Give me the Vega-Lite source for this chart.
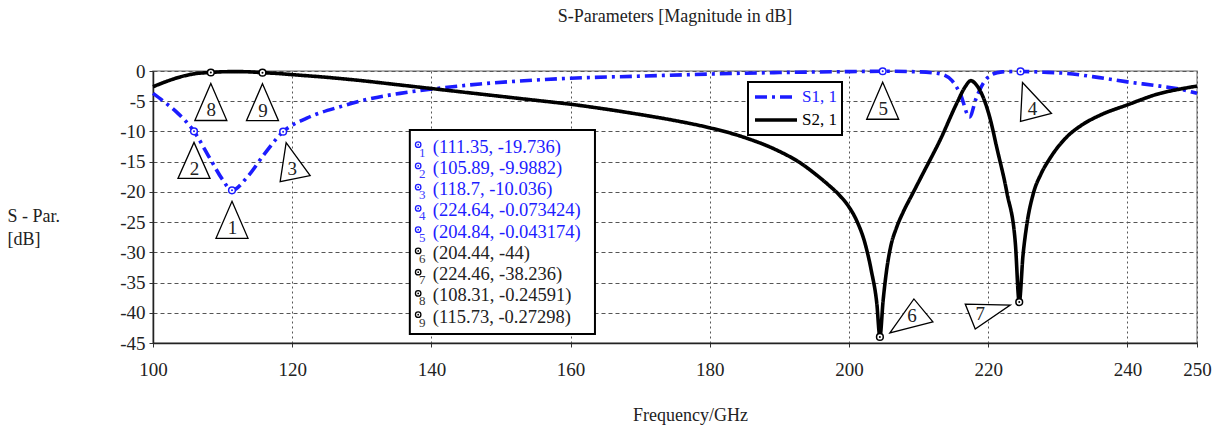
{
 "$schema": "https://vega.github.io/schema/vega-lite/v6.json",
 "width": 1044, "height": 272,
 "autosize": {"type": "none"},
 "padding": {"left": 153, "top": 71, "right": 24, "bottom": 87},
 "background": "white",
 "config": {"font": "Liberation Serif", "view": {"stroke": "#999", "strokeWidth": 1.5}},
 "title": {"text": "S-Parameters [Magnitude in dB]", "fontSize": 18, "fontWeight": "normal", "color": "#222", "anchor": "middle", "frame": "group", "baseline": "bottom", "offset": 18},
 "datasets": {
  "curves": [
   {"series": "S1, 1", "f": 100, "db": -3.7}, {"series": "S1, 1", "f": 101.5, "db": -5.0}, {"series": "S1, 1", "f": 103.4, "db": -6.8},
   {"series": "S1, 1", "f": 105.89, "db": -9.9882}, {"series": "S1, 1", "f": 108.2, "db": -14.5}, {"series": "S1, 1", "f": 109.9, "db": -17.8},
   {"series": "S1, 1", "f": 111.35, "db": -19.736}, {"series": "S1, 1", "f": 113.5, "db": -17.6}, {"series": "S1, 1", "f": 115.9, "db": -13.9},
   {"series": "S1, 1", "f": 118.7, "db": -10.036}, {"series": "S1, 1", "f": 122.1, "db": -7.8}, {"series": "S1, 1", "f": 126.9, "db": -5.9},
   {"series": "S1, 1", "f": 130, "db": -4.9}, {"series": "S1, 1", "f": 135.5, "db": -3.7}, {"series": "S1, 1", "f": 140, "db": -3.0},
   {"series": "S1, 1", "f": 147, "db": -2.15}, {"series": "S1, 1", "f": 155, "db": -1.5}, {"series": "S1, 1", "f": 160, "db": -1.2},
   {"series": "S1, 1", "f": 170, "db": -0.85}, {"series": "S1, 1", "f": 180, "db": -0.5}, {"series": "S1, 1", "f": 190, "db": -0.25},
   {"series": "S1, 1", "f": 200, "db": -0.1}, {"series": "S1, 1", "f": 204.84, "db": -0.043174}, {"series": "S1, 1", "f": 209, "db": -0.1},
   {"series": "S1, 1", "f": 212, "db": -0.3}, {"series": "S1, 1", "f": 213.5, "db": -0.6}, {"series": "S1, 1", "f": 214.8, "db": -1.6},
   {"series": "S1, 1", "f": 216, "db": -3.8}, {"series": "S1, 1", "f": 217.3, "db": -7.6}, {"series": "S1, 1", "f": 218.3, "db": -4.4},
   {"series": "S1, 1", "f": 219.3, "db": -2.0}, {"series": "S1, 1", "f": 220.5, "db": -0.6}, {"series": "S1, 1", "f": 222, "db": -0.15},
   {"series": "S1, 1", "f": 224.64, "db": -0.073424}, {"series": "S1, 1", "f": 228, "db": -0.2}, {"series": "S1, 1", "f": 231.3, "db": -0.4},
   {"series": "S1, 1", "f": 236, "db": -1.1}, {"series": "S1, 1", "f": 240, "db": -1.8}, {"series": "S1, 1", "f": 244.7, "db": -2.5},
   {"series": "S1, 1", "f": 247.5, "db": -3.0}, {"series": "S1, 1", "f": 250, "db": -3.7},
   {"series": "S2, 1", "f": 100, "db": -2.6}, {"series": "S2, 1", "f": 102, "db": -1.7}, {"series": "S2, 1", "f": 104, "db": -0.95},
   {"series": "S2, 1", "f": 106, "db": -0.45}, {"series": "S2, 1", "f": 108.31, "db": -0.24591}, {"series": "S2, 1", "f": 110, "db": -0.13},
   {"series": "S2, 1", "f": 112, "db": -0.1}, {"series": "S2, 1", "f": 114, "db": -0.15}, {"series": "S2, 1", "f": 115.73, "db": -0.27298},
   {"series": "S2, 1", "f": 118, "db": -0.42}, {"series": "S2, 1", "f": 120, "db": -0.6}, {"series": "S2, 1", "f": 125, "db": -1.05},
   {"series": "S2, 1", "f": 130, "db": -1.6}, {"series": "S2, 1", "f": 135, "db": -2.25}, {"series": "S2, 1", "f": 140, "db": -2.9},
   {"series": "S2, 1", "f": 145, "db": -3.55}, {"series": "S2, 1", "f": 150, "db": -4.2}, {"series": "S2, 1", "f": 155, "db": -4.85},
   {"series": "S2, 1", "f": 160, "db": -5.5}, {"series": "S2, 1", "f": 165, "db": -6.3}, {"series": "S2, 1", "f": 170, "db": -7.2},
   {"series": "S2, 1", "f": 175, "db": -8.2}, {"series": "S2, 1", "f": 180, "db": -9.4}, {"series": "S2, 1", "f": 185, "db": -11.0},
   {"series": "S2, 1", "f": 190, "db": -13.3}, {"series": "S2, 1", "f": 193, "db": -15.2}, {"series": "S2, 1", "f": 195, "db": -16.9},
   {"series": "S2, 1", "f": 197, "db": -18.8}, {"series": "S2, 1", "f": 198.5, "db": -20.4}, {"series": "S2, 1", "f": 200, "db": -22.5},
   {"series": "S2, 1", "f": 201.2, "db": -25}, {"series": "S2, 1", "f": 202.3, "db": -28.5},
   {"series": "S2, 1", "f": 203.2, "db": -33}, {"series": "S2, 1", "f": 204, "db": -38.5}, {"series": "S2, 1", "f": 204.44, "db": -44},
   {"series": "S2, 1", "f": 204.9, "db": -38}, {"series": "S2, 1", "f": 205.4, "db": -33}, {"series": "S2, 1", "f": 206, "db": -29},
   {"series": "S2, 1", "f": 206.8, "db": -26}, {"series": "S2, 1", "f": 207.8, "db": -23.3}, {"series": "S2, 1", "f": 209, "db": -20.6},
   {"series": "S2, 1", "f": 210.7, "db": -16.8}, {"series": "S2, 1", "f": 213.1, "db": -11.4},
   {"series": "S2, 1", "f": 215.5, "db": -5.3}, {"series": "S2, 1", "f": 216.7, "db": -2.6}, {"series": "S2, 1", "f": 217.5, "db": -1.6},
   {"series": "S2, 1", "f": 218.3, "db": -2.3}, {"series": "S2, 1", "f": 219.3, "db": -4.4}, {"series": "S2, 1", "f": 220.3, "db": -8},
   {"series": "S2, 1", "f": 221.2, "db": -12.5}, {"series": "S2, 1", "f": 222.7, "db": -20.2}, {"series": "S2, 1", "f": 223.9, "db": -28.5},
   {"series": "S2, 1", "f": 224.46, "db": -38.236}, {"series": "S2, 1", "f": 225, "db": -30.5}, {"series": "S2, 1", "f": 225.5, "db": -25.8},
   {"series": "S2, 1", "f": 226.5, "db": -20.2}, {"series": "S2, 1", "f": 227.6, "db": -17.0}, {"series": "S2, 1", "f": 228.9, "db": -14.4},
   {"series": "S2, 1", "f": 231.3, "db": -10.9}, {"series": "S2, 1", "f": 233.5, "db": -8.9}, {"series": "S2, 1", "f": 236.1, "db": -7.3},
   {"series": "S2, 1", "f": 240, "db": -5.6}, {"series": "S2, 1", "f": 244.7, "db": -3.7}, {"series": "S2, 1", "f": 247.5, "db": -3.0},
   {"series": "S2, 1", "f": 250, "db": -2.5}
  ],
  "markers": [
   {"id": 1, "series": "S1, 1", "f": 111.35, "db": -19.736},
   {"id": 2, "series": "S1, 1", "f": 105.89, "db": -9.9882},
   {"id": 3, "series": "S1, 1", "f": 118.7, "db": -10.036},
   {"id": 4, "series": "S1, 1", "f": 224.64, "db": -0.073424},
   {"id": 5, "series": "S1, 1", "f": 204.84, "db": -0.043174},
   {"id": 6, "series": "S2, 1", "f": 204.44, "db": -44},
   {"id": 7, "series": "S2, 1", "f": 224.46, "db": -38.236},
   {"id": 8, "series": "S2, 1", "f": 108.31, "db": -0.24591},
   {"id": 9, "series": "S2, 1", "f": 115.73, "db": -0.27298}
  ]
 },
 "layer": [
  {
   "data": {"name": "curves"},
   "layer": [
    {
     "mark": {"type": "line", "interpolate": "monotone", "strokeWidth": 3.6},
     "encoding": {
      "x": {"field": "f", "type": "quantitative", "scale": {"domain": [100, 250], "nice": false, "zero": false},
            "axis": {"title": "Frequency/GHz", "values": [100, 120, 140, 160, 180, 200, 220, 240, 250], "tickCount": 40, "labelFontSize": 19, "labelColor": "#222", "labelPadding": 13, "labelOverlap": false, "tickSize": 4, "tickColor": "#333", "domainColor": "#222", "domainWidth": 1.5, "grid": true, "gridColor": "#555", "gridDash": [2, 3], "gridWidth": 1, "titleFontSize": 18, "titleFontWeight": "normal", "titleColor": "#222", "titleX": 537, "titleY": 77, "titleBaseline": "alphabetic", "titleAnchor": "start", "titleAlign": "center", "labelFlush": false}},
      "y": {"field": "db", "type": "quantitative", "scale": {"domain": [-45, 0], "nice": false, "zero": false},
            "axis": {"title": ["S - Par.", "[dB]"], "values": [0, -5, -10, -15, -20, -25, -30, -35, -40, -45], "tickCount": 40, "labelExpr": "datum.value + ''", "labelOverlap": false, "labelFontSize": 19, "labelColor": "#222", "labelPadding": 4, "tickSize": 4, "tickColor": "#333", "domainColor": "#222", "domainWidth": 1.5, "grid": true, "gridColor": "#555", "gridDash": [4, 3], "gridWidth": 1, "titleFontSize": 18, "titleFontWeight": "normal", "titleColor": "#222", "titleAngle": 0, "titleAlign": "left", "titleAnchor": "start", "titleBaseline": "alphabetic", "titleX": -146, "titleY": 150, "titleLineHeight": 23, "labelFlush": false}},
      "color": {"field": "series", "type": "nominal", "scale": {"domain": ["S1, 1", "S2, 1"], "range": ["#1c1cff", "#000000"]},
                "legend": {"orient": "none", "legendX": 595, "legendY": 11, "title": null, "symbolType": "stroke", "symbolSize": 1764, "symbolStrokeWidth": 3.5, "labelFontSize": 17, "labelFont": "Liberation Serif", "labelOffset": 3, "padding": 5, "strokeColor": "black", "fillColor": "white", "rowPadding": 3, "clipHeight": 20,
                           "encode": {"labels": {"update": {"fill": {"signal": "datum.label === 'S1, 1' ? '#1c1cff' : 'black'"}}}, "legend": {"update": {"strokeWidth": {"value": 2}}}}}},
      "strokeDash": {"field": "series", "type": "nominal", "scale": {"domain": ["S1, 1", "S2, 1"], "range": [[12, 5, 3, 5], [1, 0]]},
                "legend": {"orient": "none", "legendX": 595, "legendY": 11, "title": null, "symbolType": "stroke", "symbolSize": 1764, "symbolStrokeWidth": 3.5, "labelFontSize": 17, "labelFont": "Liberation Serif", "labelOffset": 3, "padding": 5, "strokeColor": "black", "fillColor": "white", "rowPadding": 3, "clipHeight": 20}}
     }
    },
    {
     "data": {"name": "markers"},
     "mark": {"type": "point", "filled": true, "fill": "white", "stroke": "black", "strokeWidth": 1.3, "size": 400, "opacity": 1},
     "encoding": {
      "x": {"field": "f", "type": "quantitative"},
      "y": {"field": "db", "type": "quantitative"},
      "shape": {"field": "id", "type": "nominal", "legend": null,
                "scale": {"domain": [1, 2, 3, 4, 5, 6, 7, 8, 9],
                          "range": ["M0,1.1L1.6,4.8L-1.6,4.8Z", "M0,1.1L1.6,4.7L-1.6,4.7Z", "M0.3,1.1L-0.3,5L2.7,4.4Z", "M0.2,1.1L3.1,4.2L0,5Z", "M0,1.1L1.6,4.8L-1.6,4.8Z", "M1,-0.4L3.4,-3.8L5.3,-1.5Z", "M-5.4,0.2L-0.9,0.3L-4.4,2.7Z", "M0,1.1L1.6,4.8L-1.6,4.8Z", "M0,1.1L1.6,4.8L-1.6,4.8Z"]}}
     }
    },
    {
     "data": {"name": "markers"},
     "transform": [{"filter": "indexof([1, 2, 5, 8, 9], datum.id) >= 0"}],
     "mark": {"type": "text", "fontSize": 19, "baseline": "middle", "align": "center", "dx": 0.5, "dy": 38, "color": "#222"},
     "encoding": {"x": {"field": "f", "type": "quantitative"}, "y": {"field": "db", "type": "quantitative"}, "text": {"field": "id"}}
    },
    {
     "data": {"name": "markers"},
     "transform": [{"filter": "datum.id === 3"}],
     "mark": {"type": "text", "fontSize": 19, "baseline": "middle", "align": "center", "dx": 9, "dy": 37, "color": "#222"},
     "encoding": {"x": {"field": "f", "type": "quantitative"}, "y": {"field": "db", "type": "quantitative"}, "text": {"field": "id"}}
    },
    {
     "data": {"name": "markers"},
     "transform": [{"filter": "datum.id === 4"}],
     "mark": {"type": "text", "fontSize": 19, "baseline": "middle", "align": "center", "dx": 12, "dy": 38, "color": "#222"},
     "encoding": {"x": {"field": "f", "type": "quantitative"}, "y": {"field": "db", "type": "quantitative"}, "text": {"field": "id"}}
    },
    {
     "data": {"name": "markers"},
     "transform": [{"filter": "datum.id === 6"}],
     "mark": {"type": "text", "fontSize": 19, "baseline": "middle", "align": "center", "dx": 32, "dy": -21, "color": "#222"},
     "encoding": {"x": {"field": "f", "type": "quantitative"}, "y": {"field": "db", "type": "quantitative"}, "text": {"field": "id"}}
    },
    {
     "data": {"name": "markers"},
     "transform": [{"filter": "datum.id === 7"}],
     "mark": {"type": "text", "fontSize": 19, "baseline": "middle", "align": "center", "dx": -39, "dy": 12, "color": "#222"},
     "encoding": {"x": {"field": "f", "type": "quantitative"}, "y": {"field": "db", "type": "quantitative"}, "text": {"field": "id"}}
    },
    {
     "data": {"name": "markers"},
     "mark": {"type": "point", "shape": "circle", "size": 45, "filled": true, "fill": "white", "strokeWidth": 1.5, "opacity": 1},
     "encoding": {"x": {"field": "f", "type": "quantitative"}, "y": {"field": "db", "type": "quantitative"},
                  "stroke": {"condition": {"test": "datum.series === 'S1, 1'", "value": "#1c1cff"}, "value": "black"}}
    },
    {
     "data": {"name": "markers"},
     "mark": {"type": "point", "shape": "circle", "size": 4, "filled": true, "opacity": 1},
     "encoding": {"x": {"field": "f", "type": "quantitative"}, "y": {"field": "db", "type": "quantitative"},
                  "color": {"condition": {"test": "datum.series === 'S1, 1'", "value": "#1c1cff"}, "value": "black"}}
    }
   ]
  },
  {
   "data": {"name": "markers"},
   "transform": [{"calculate": "'(' + datum.f + ', ' + datum.db + ')'", "as": "label"}],
   "layer": [
    {
     "data": {"values": [{}]},
     "mark": {"type": "rect", "fill": "white", "stroke": "black", "strokeWidth": 2},
     "encoding": {
      "x": {"datum": 136.9, "type": "quantitative", "title": "Frequency/GHz"}, "x2": {"datum": 163.5},
      "y": {"datum": 0.22, "type": "quantitative", "scale": {"domain": [-2.56, 10.24], "reverse": true, "nice": false, "zero": false}, "axis": null}, "y2": {"datum": 9.82}
     }
    },
    {
     "mark": {"type": "point", "shape": "circle", "size": 30, "filled": true, "fill": "white", "strokeWidth": 1.3, "opacity": 1, "yOffset": -2},
     "encoding": {
      "x": {"datum": 138.1, "type": "quantitative", "title": "Frequency/GHz"},
      "y": {"field": "id", "type": "quantitative", "scale": {"domain": [-2.56, 10.24], "reverse": true, "nice": false, "zero": false}, "axis": null},
      "stroke": {"condition": {"test": "datum.series === 'S1, 1'", "value": "#1c1cff"}, "value": "black"}
     }
    },
    {
     "mark": {"type": "point", "shape": "circle", "size": 3, "filled": true, "opacity": 1, "yOffset": -2},
     "encoding": {
      "x": {"datum": 138.1, "type": "quantitative", "title": "Frequency/GHz"},
      "y": {"field": "id", "type": "quantitative", "axis": null},
      "color": {"condition": {"test": "datum.series === 'S1, 1'", "value": "#1c1cff"}, "value": "black"}
     }
    },
    {
     "mark": {"type": "text", "fontSize": 13, "baseline": "middle", "align": "center", "dx": 4, "dy": 6},
     "encoding": {
      "x": {"datum": 138.1, "type": "quantitative", "title": "Frequency/GHz"},
      "y": {"field": "id", "type": "quantitative", "axis": null},
      "text": {"field": "id"},
      "color": {"condition": {"test": "datum.series === 'S1, 1'", "value": "#3a3aff"}, "value": "#333"}
     }
    },
    {
     "mark": {"type": "text", "fontSize": 18.5, "baseline": "middle", "align": "left"},
     "encoding": {
      "x": {"datum": 140.2, "type": "quantitative", "title": "Frequency/GHz"},
      "y": {"field": "id", "type": "quantitative", "axis": null},
      "text": {"field": "label"},
      "color": {"condition": {"test": "datum.series === 'S1, 1'", "value": "#1c1cff"}, "value": "#222"}
     }
    }
   ]
  }
 ],
 "resolve": {"scale": {"y": "independent"}}
}
